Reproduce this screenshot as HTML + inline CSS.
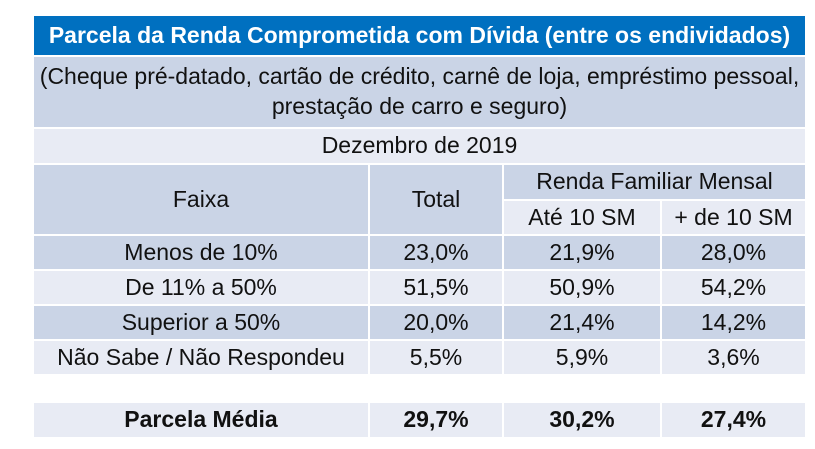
<!DOCTYPE html>
<html><head><meta charset="utf-8"><style>
body{margin:0;width:815px;height:449px;background:#fff;font-family:"Liberation Sans",sans-serif;position:relative;overflow:hidden}
.c{position:absolute;display:flex;align-items:center;justify-content:center;text-align:center;color:#111;font-size:23px;box-sizing:border-box;line-height:1.3;white-space:nowrap}
.d{background:#cad4e6}.l{background:#e8ebf4}
</style></head><body>
<div class="c" style="left:34px;top:16px;width:771px;height:39px;background:#0070c0;color:#fff;font-weight:bold;font-size:23px">Parcela da Renda Comprometida com Dívida (entre os endividados)</div>
<div class="c d" style="left:34px;top:57px;width:771px;height:70px">(Cheque pré-datado, cartão de crédito, carnê de loja, empréstimo pessoal,<br>prestação de carro e seguro)</div>
<div class="c l" style="left:34px;top:129px;width:771px;height:34px">Dezembro de 2019</div>
<div class="c d" style="left:34px;top:165px;width:334px;height:69px">Faixa</div>
<div class="c d" style="left:370px;top:165px;width:132px;height:69px">Total</div>
<div class="c d" style="left:504px;top:165px;width:301px;height:34px">Renda Familiar Mensal</div>
<div class="c l" style="left:504px;top:201px;width:156px;height:33px">Até 10 SM</div>
<div class="c l" style="left:662px;top:201px;width:143px;height:33px">+ de 10 SM</div>
<script>
const labels=["Menos de 10%","De 11% a 50%","Superior a 50%","Não Sabe / Não Respondeu"];
const total=["23,0%","51,5%","20,0%","5,5%"];
const ate10=["21,9%","50,9%","21,4%","5,9%"];
const mais10=["28,0%","54,2%","14,2%","3,6%"];
const cols=[[34,334],[370,132],[504,156],[662,143]];
function cell(x,w,y,h,txt,cls,bold,name){
  const e=document.createElement('div');
  e.className='c '+cls;
  e.style.cssText=`left:${x}px;top:${y}px;width:${w}px;height:${h}px;`+(bold?'font-weight:bold;':'');
  e.textContent=txt;
  
  
  document.body.appendChild(e);
}
labels.forEach((lab,i)=>{
  const y=236+i*35, cls=i%2==0?'d':'l';
  const vals=[lab,total[i],ate10[i],mais10[i]];
  vals.forEach((v,j)=>cell(cols[j][0],cols[j][1],y,33,v,cls,false,'row-'+i+'-col-'+j));
});
const avg=["Parcela Média","29,7%","30,2%","27,4%"];
avg.forEach((v,j)=>cell(cols[j][0],cols[j][1],403,34,v,'l',true,'parcela-media-col-'+j));
</script>
</body></html>
